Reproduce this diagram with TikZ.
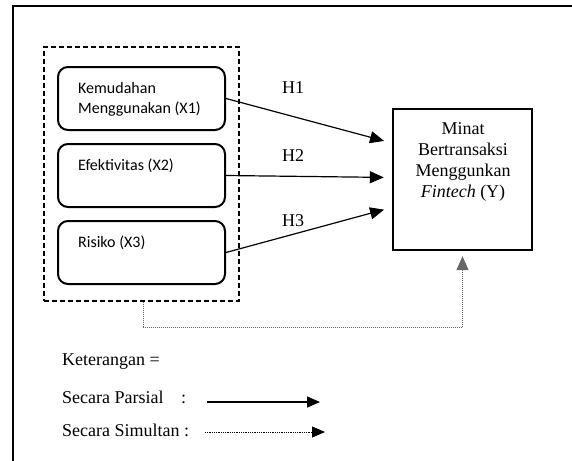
\documentclass[tikz,border=0pt]{standalone}
\usepackage{fontspec}
\setmainfont{Liberation Serif}
\newfontfamily\calfont{Carlito}
\usetikzlibrary{arrows.meta,calc}
\tikzset{
  xbox/.style={draw,line width=2pt,rounded corners=10pt,minimum width=167pt,minimum height=63pt,inner sep=0pt},
  ybox/.style={draw,line width=2.4pt,minimum width=139pt,minimum height=141pt,inner sep=0pt},
  grpbox/.style={draw,line width=1.8pt,dash pattern=on 5pt off 3pt,minimum width=195pt,minimum height=254pt,inner sep=0pt},
  xtext/.style={anchor=west,inner sep=0pt,align=left,font=\calfont\fontsize{16}{20}\selectfont,text=black},
  ttext/.style={inner sep=0pt,font=\fontsize{18}{21}\selectfont},
  harrow/.style={line width=1.2pt,-{Triangle[length=14pt,width=12pt]}},
  darrow/.style={line width=1pt,densely dotted,black!60,-{Triangle[length=14pt,width=12pt]}},
  legarrow/.style={line width=1.2pt,-{Triangle[length=13pt,width=11pt]}},
  legdarrow/.style={line width=0.8pt,densely dotted,-{Triangle[length=13pt,width=11pt]}}
}
\begin{document}
\begin{tikzpicture}[x=1pt,y=-1pt]
\useasboundingbox (0,0) rectangle (572,460);
% outer frame (cropped)
\draw[line width=2pt] (13,462) -- (13,6) -- (574,6);
% group box
\node[grpbox] (grp) at (141.5,174) {};
% X boxes
\node[xbox] (b1) at (141.5,98.5) {};
\node[xbox] (b2) at (141.5,175.5) {};
\node[xbox] (b3) at (141.5,252.5) {};
\node[xtext] (t1) at (78,99) {Kemudahan\\Menggunakan (X1)};
\node[xtext] (t2) at (78,166) {Efektivitas (X2)};
\node[xtext] (t3) at (78,243) {Risiko (X3)};
% Y box
\node[ybox] (Y) at (462.5,179.5) {};
\node[ttext,align=center] (ty) at (463,161.5) {Minat\\Bertransaksi\\Menggunkan\\\textit{Fintech} (Y)};
% arrows
\draw[harrow,shorten >=8pt] (b1.east) -- ($(Y.west)+(0,-36.5)$);
\draw[harrow,shorten >=8pt] (b2.east) -- ($(Y.west)+(0,-2)$);
\draw[harrow,shorten >=8pt] (b3.east) -- ($(Y.west)+(0,28)$);
\node[ttext] (h1) at (293,88) {H1};
\node[ttext] (h2) at (293,156) {H2};
\node[ttext] (h3) at (293,221) {H3};
% simultaneous dotted connector
\draw[darrow,shorten >=5pt] ($(grp.south)+(1.5,0)$) -- ++(0,26) -| (Y.south);
% legend
\node[ttext,anchor=west] (k) at (62,362) {Keterangan =};
\node[ttext,anchor=west] (lp) at (62,397) {\makebox[119pt][l]{Secara Parsial}:};
\node[ttext,anchor=west] (ls) at (62,430) {\makebox[122pt][l]{Secara Simultan}:};
\coordinate (p1) at (207,402);
\coordinate (p2) at (320,402);
\coordinate (s1) at (205,432);
\coordinate (s2) at (325,432);
\draw[legarrow] (p1) -- (p2);
\draw[legdarrow] (s1) -- (s2);
\end{tikzpicture}
\end{document}
